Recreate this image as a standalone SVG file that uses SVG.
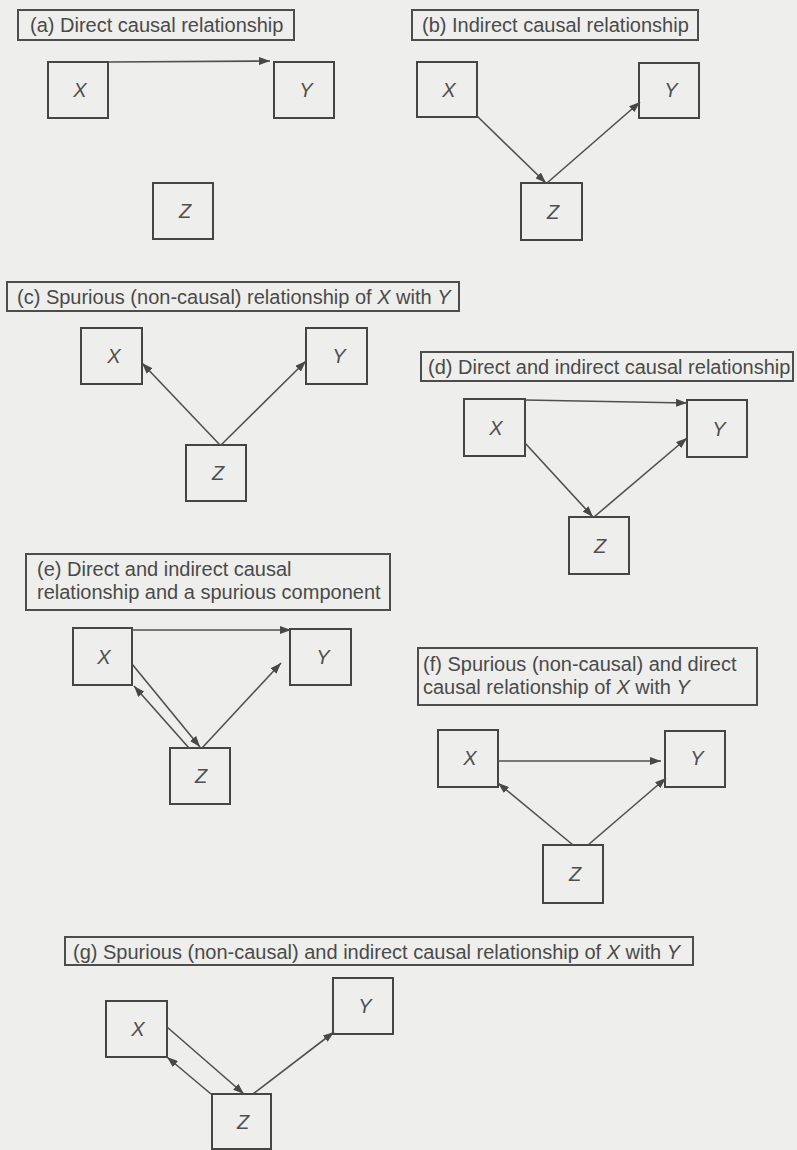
<svg xmlns="http://www.w3.org/2000/svg" width="797" height="1150" viewBox="0 0 797 1150">
  <defs>
    <style>
      .bg { fill: #eeeeec; }
      .cap { fill: none; stroke: #4d4d4d; stroke-width: 2; }
      .capt { font-family: "Liberation Sans", Arial, sans-serif; font-size: 20px; fill: #4a4a4a; }
      .box { fill: none; stroke: #454545; stroke-width: 2; }
      .var { font-family: "Liberation Sans", Arial, sans-serif; font-size: 20px; font-style: italic; fill: #505050; text-anchor: middle; }
      .it { font-style: italic; }
      .edge { fill: none; stroke: #505050; stroke-width: 1.6; marker-end: url(#head); }
    </style>
    <marker id="head" markerUnits="userSpaceOnUse" markerWidth="11" markerHeight="8" refX="11" refY="4" orient="auto">
      <path d="M0,0 L11,4 L0,8 z" fill="#484848"/>
    </marker>
  </defs>

  <rect class="bg" x="0" y="0" width="797" height="1150"/>

  <!-- panel captions -->
  <g id="captions">
    <g id="cap-a">
      <rect class="cap" x="18" y="10" width="276" height="30"/>
      <text class="capt" x="30" y="32">(a) Direct causal relationship</text>
    </g>
    <g id="cap-b">
      <rect class="cap" x="412" y="10" width="286" height="30"/>
      <text class="capt" x="422" y="32">(b) Indirect causal relationship</text>
    </g>
    <g id="cap-c">
      <rect class="cap" x="7" y="282" width="452" height="29"/>
      <text class="capt" x="17" y="304">(c) Spurious (non-causal) relationship of <tspan class="it">X</tspan> with <tspan class="it">Y</tspan></text>
    </g>
    <g id="cap-d">
      <rect class="cap" x="421" y="352" width="372" height="29"/>
      <text class="capt" x="428" y="374">(d) Direct and indirect causal relationship</text>
    </g>
    <g id="cap-e">
      <rect class="cap" x="26" y="554" width="364" height="56"/>
      <text class="capt" x="37" y="576">(e) Direct and indirect causal</text>
      <text class="capt" x="37" y="599">relationship and a spurious component</text>
    </g>
    <g id="cap-f">
      <rect class="cap" x="418" y="648" width="339" height="57"/>
      <text class="capt" x="423" y="671">(f) Spurious (non-causal) and direct</text>
      <text class="capt" x="423" y="694">causal relationship of <tspan class="it">X</tspan> with <tspan class="it">Y</tspan></text>
    </g>
    <g id="cap-g">
      <rect class="cap" x="65" y="937" width="628" height="28"/>
      <text class="capt" x="73" y="959">(g) Spurious (non-causal) and indirect causal relationship of <tspan class="it">X</tspan> with <tspan class="it">Y</tspan></text>
    </g>
  </g>

  <!-- variable nodes -->
  <g id="a-X"><rect class="box" x="48" y="62" width="60" height="56"/><text class="var" x="80" y="97">X</text></g>
  <g id="a-Y"><rect class="box" x="274" y="62" width="60" height="56"/><text class="var" x="306" y="97">Y</text></g>
  <g id="a-Z"><rect class="box" x="153" y="183" width="60" height="56"/><text class="var" x="185" y="218">Z</text></g>

  <g id="b-X"><rect class="box" x="417" y="62" width="60" height="55"/><text class="var" x="449" y="97">X</text></g>
  <g id="b-Y"><rect class="box" x="639" y="63" width="60" height="55"/><text class="var" x="671" y="97">Y</text></g>
  <g id="b-Z"><rect class="box" x="521" y="183" width="61" height="57"/><text class="var" x="553" y="219">Z</text></g>

  <g id="c-X"><rect class="box" x="81" y="328" width="61" height="56"/><text class="var" x="114" y="363">X</text></g>
  <g id="c-Y"><rect class="box" x="306" y="328" width="61" height="56"/><text class="var" x="339" y="363">Y</text></g>
  <g id="c-Z"><rect class="box" x="186" y="445" width="60" height="56"/><text class="var" x="218" y="480">Z</text></g>

  <g id="d-X"><rect class="box" x="464" y="399" width="61" height="57"/><text class="var" x="496" y="435">X</text></g>
  <g id="d-Y"><rect class="box" x="687" y="400" width="60" height="57"/><text class="var" x="719" y="436">Y</text></g>
  <g id="d-Z"><rect class="box" x="569" y="517" width="60" height="57"/><text class="var" x="600" y="553">Z</text></g>

  <g id="e-X"><rect class="box" x="73" y="628" width="59" height="57"/><text class="var" x="104" y="664">X</text></g>
  <g id="e-Y"><rect class="box" x="290" y="629" width="61" height="56"/><text class="var" x="323" y="664">Y</text></g>
  <g id="e-Z"><rect class="box" x="170" y="748" width="60" height="56"/><text class="var" x="201" y="783">Z</text></g>

  <g id="f-X"><rect class="box" x="438" y="730" width="60" height="57"/><text class="var" x="470" y="765">X</text></g>
  <g id="f-Y"><rect class="box" x="665" y="731" width="60" height="56"/><text class="var" x="697" y="765">Y</text></g>
  <g id="f-Z"><rect class="box" x="543" y="845" width="60" height="58"/><text class="var" x="575" y="881">Z</text></g>

  <g id="g-X"><rect class="box" x="106" y="1001" width="61" height="56"/><text class="var" x="138" y="1036">X</text></g>
  <g id="g-Y"><rect class="box" x="333" y="978" width="60" height="56"/><text class="var" x="365" y="1013">Y</text></g>
  <g id="g-Z"><rect class="box" x="212" y="1094" width="59" height="55"/><text class="var" x="243" y="1129">Z</text></g>

  <!-- causal arrows -->
  <g id="connectors">
    <line class="edge" x1="108" y1="62" x2="270" y2="61"/>

    <line class="edge" x1="477" y1="116" x2="546" y2="183"/>
    <line class="edge" x1="547" y1="183" x2="640" y2="102"/>

    <line class="edge" x1="220" y1="445" x2="142" y2="363"/>
    <line class="edge" x1="221" y1="445" x2="306" y2="361"/>

    <line class="edge" x1="525" y1="400" x2="687" y2="403"/>
    <line class="edge" x1="525" y1="443" x2="593" y2="517"/>
    <line class="edge" x1="594" y1="517" x2="687" y2="438"/>

    <line class="edge" x1="132" y1="630" x2="291" y2="630"/>
    <line class="edge" x1="132" y1="664" x2="200" y2="747"/>
    <line class="edge" x1="189" y1="748" x2="134" y2="686"/>
    <line class="edge" x1="202" y1="748" x2="281" y2="663"/>

    <line class="edge" x1="498" y1="761" x2="661" y2="761"/>
    <line class="edge" x1="573" y1="845" x2="498" y2="783"/>
    <line class="edge" x1="588" y1="845" x2="666" y2="778"/>

    <line class="edge" x1="167" y1="1027" x2="244" y2="1094"/>
    <line class="edge" x1="211" y1="1094" x2="167" y2="1057"/>
    <line class="edge" x1="253" y1="1094" x2="334" y2="1032"/>
  </g>
</svg>
